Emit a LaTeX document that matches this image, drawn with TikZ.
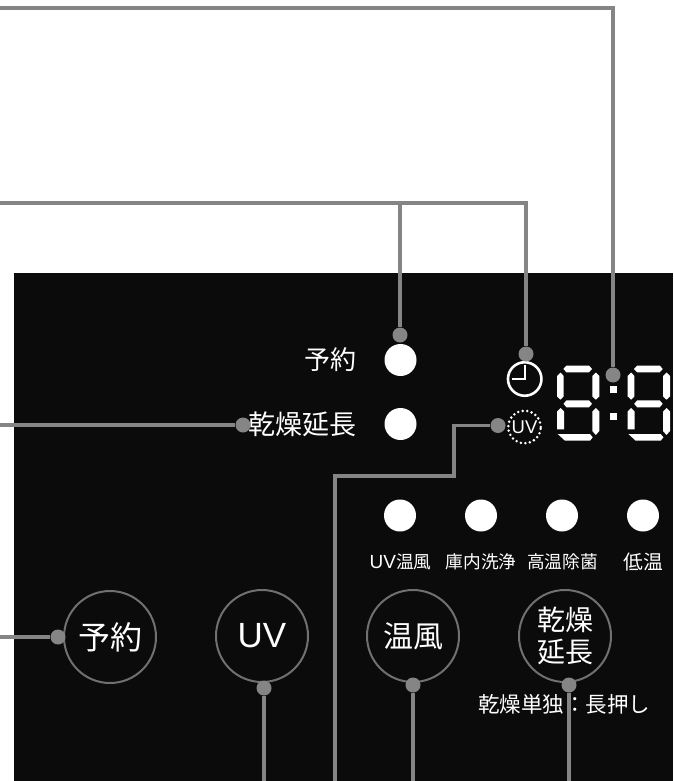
\documentclass[tikz,border=0pt]{standalone}
\usepackage{fontspec}
\setmainfont{Noto Sans CJK JP}
\newfontfamily\latinui{Liberation Sans}
\tikzset{
  x=1pt,y=-1pt,
  panel/.style={fill=panelc,draw=none},
  wire/.style={draw=wirec,line width=3.7pt},
  pin/.style={circle,fill=wirec,draw=none,minimum size=15pt,inner sep=0pt},
  led/.style={circle,fill=white,draw=none,minimum size=32pt,inner sep=0pt},
  btn/.style={circle,draw=ringc,line width=2pt,minimum size=92pt,inner sep=0pt,text=white,align=center},
  lab/.style={text=white,inner sep=0pt},
  seg/.style={fill=white,draw=none},
}
\definecolor{panelc}{HTML}{0B0B0B}
\definecolor{wirec}{HTML}{858585}
\definecolor{ringc}{HTML}{707070}
\begin{document}
\begin{tikzpicture}
\useasboundingbox (0,0) rectangle (673,781);
\fill[white] (0,0) rectangle (673,781);
\fill[panel] (14,273) rectangle (673,781);
% indicators
\node[led] (ledyoyaku) at (400.5,360) {};
\node[led] (ledkanso) at (400.5,424) {};
\node[led] (leda) at (400,515.5) {};
\node[led] (ledb) at (481,515.5) {};
\node[led] (ledc) at (562,515.5) {};
\node[led] (ledd) at (643,515.5) {};
\node[lab,font=\fontsize{17.7}{17.7}\selectfont] (la) at (400.5,562) {{\latinui\fontsize{19}{19}\selectfont UV}温風};
\node[lab,font=\fontsize{17.7}{17.7}\selectfont] (lb) at (481,562) {庫内洗浄};
\node[lab,font=\fontsize{17.7}{17.7}\selectfont] (lc) at (562.5,562) {高温除菌};
\node[lab,font=\fontsize{19.8}{19.8}\selectfont] (ld) at (643,562) {低温};
\node[lab,anchor=east,font=\fontsize{26}{26}\selectfont] (lyoyaku) at (356.5,360) {予約};
\node[lab,anchor=east,font=\fontsize{27}{27}\selectfont] (lkanso) at (356.5,424) {乾燥延長};
\node[btn,font=\fontsize{32}{32}\selectfont] (byoyaku) at (110,637) {予約};
\node[btn,font=\fontsize{35}{35}\latinui\selectfont] (buv) at (262,636) {UV};
\node[btn,font=\fontsize{30}{30}\selectfont] (bwarm) at (413,636) {温風};
\node[btn,font=\fontsize{28}{32}\selectfont] (bext) at (565,636) {\raisebox{-3pt}{乾燥}\\\raisebox{-3pt}{延長}};
\node[lab,font=\fontsize{21.5}{21.5}\selectfont] (cap) at (564,704) {乾燥単独：長押し};
% clock
\node[circle,draw=white,line width=2.6pt,minimum size=33.5pt,inner sep=0pt] (clock) at (524.7,379) {};
\draw[white,line width=2.3pt] (524.7,365) -- (524.7,379) -- (512,379);
% UV dotted ring
\node[circle,draw=white,line width=2.8pt,dash pattern=on 0pt off 4.55pt,line cap=round,minimum size=32.5pt,inner sep=0pt] (uvring) at (524.5,427) {};
\node[lab,font=\fontsize{18.5}{18.5}\latinui\selectfont] (uvtext) at (524.5,427.5) {UV};
% digits
\foreach \ox in {0,70.7}{
  \begin{scope}[shift={(\ox,0)}]
  \fill[seg] (563.3,369) -- (566.5,365.5) -- (589,365.5) -- (592,369) -- (589,372.3) -- (566.5,372.3) -- cycle;
  \fill[seg] (557,376) -- (560.5,372.5) -- (563.7,376) -- (563.7,396.5) -- (560.5,399.7) -- (557,396.5) -- cycle;
  \fill[seg] (592.3,376) -- (595.8,372.5) -- (599.3,376) -- (599.3,396.5) -- (595.8,399.7) -- (592.3,396.5) -- cycle;
  \fill[seg] (563.5,403.8) -- (566.5,400.3) -- (589,400.3) -- (592,403.8) -- (589,407.3) -- (566.5,407.3) -- cycle;
  \fill[seg] (557,411.5) -- (560.5,408) -- (564,411.5) -- (564,429.3) -- (557,429.3) -- cycle;
  \fill[seg] (592.3,411.5) -- (595.8,408) -- (599.3,411.5) -- (599.3,431) -- (595.8,435) -- (592.3,431) -- cycle;
  \fill[seg] (557.7,434) -- (590,434) -- (592.7,437.3) -- (590,440.7) -- (565,440.7) -- cycle;
  \end{scope}
}
\fill[seg] (610,385.5) rectangle (617,392.5);
\fill[seg] (610,413) rectangle (617,420);
% pins
\node[pin] (p1) at (613,375) {};
\node[pin] (p2) at (526,354) {};
\node[pin] (p3) at (400,335) {};
\node[pin] (p4) at (243,425) {};
\node[pin] (p5) at (498,425.5) {};
\node[pin] (p6) at (58,637) {};
\node[pin] (p7) at (264,688) {};
\node[pin] (p8) at (413,685) {};
\node[pin] (p9) at (569,685) {};
% free ends
\coordinate (top0) at (0,8);
\coordinate (mid0) at (0,203);
\coordinate (kan0) at (0,425);
\coordinate (yo0) at (0,637);
\coordinate (uvb) at (264,781);
\coordinate (waB) at (413,781);
\coordinate (exB) at (569,781);
\coordinate (uvlB) at (335,781);
\coordinate (j) at (400,203);
\draw[wire] (top0) -- (613,8) -- (p1);
\draw[wire] (mid0) -- (526,203) -- (p2);
\draw[wire] (j) -- (p3);
\draw[wire] (kan0) -- (p4);
\draw[wire] (p5) -- (454,425.5) -- (454,476) -- (335,476) -- (uvlB);
\draw[wire] (yo0) -- (p6);
\draw[wire] (p7) -- (uvb);
\draw[wire] (p8) -- (waB);
\draw[wire] (p9) -- (exB);
\end{tikzpicture}
\end{document}
